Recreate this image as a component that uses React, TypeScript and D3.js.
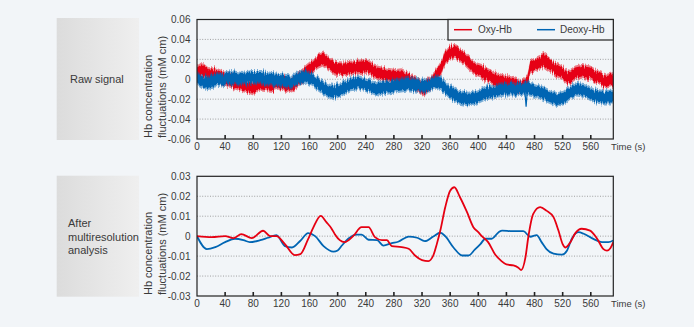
import React from 'react';
import * as d3 from 'd3';

// ---------- data ----------
const timeTicks = [0, 40, 80, 120, 160, 200, 240, 280, 320, 360, 400, 440, 480, 520, 560];
const rawYTicks = [0.06, 0.04, 0.02, 0, -0.02, -0.04, -0.06];
const rawYTickLabels = ['0.06', '0.04', '0.02', '0', '-0.02', '-0.04', '-0.06'];
const mraYTicks = [0.03, 0.02, 0.01, 0, -0.01, -0.02, -0.03];
const mraYTickLabels = ['0.03', '0.02', '0.01', '0', '-0.01', '-0.02', '-0.03'];
const seriesNames = ['Oxy-Hb', 'Deoxy-Hb'];

// raw signal: [time s, mean value]
const oxyRaw: [number, number][] = [
  [0, 0.0064], [7, 0.0098], [16, 0.0047], [26, 0.0047], [35, 0.002], [45, -0.002], [54, -0.003],
  [64, -0.0055], [73, -0.007], [80, -0.009], [90, -0.0037], [99, -0.0047], [108, -0.0055],
  [118, -0.0037], [128, -0.0055], [135, -0.007], [142, -0.002], [149, 0.003], [156, 0.008],
  [163, 0.012], [172, 0.018], [180, 0.0205], [187, 0.0165], [196, 0.011], [210, 0.0105],
  [225, 0.012], [239, 0.013], [246, 0.0115], [253, 0.007], [267, 0.0047], [282, 0.003],
  [291, 0.0037], [301, 0], [315, -0.0065], [322, -0.0105], [331, -0.0047], [338, 0.001],
  [346, 0.0098], [353, 0.021], [362, 0.0285], [369, 0.0275], [379, 0.022], [388, 0.0155],
  [396, 0.01], [405, 0.008], [414, 0.0037], [424, 0.0003], [433, -0.002], [443, -0.0037],
  [452, -0.0055], [462, -0.008], [469, -0.0037], [474, 0.012], [483, 0.0155], [493, 0.019],
  [500, 0.0155], [509, 0.0105], [519, 0.0065], [528, 0.0013], [538, 0.0065], [547, 0.008],
  [559, 0.0065], [571, 0.0013], [583, -0.002], [592, 0],
];
const deoxyRaw: [number, number][] = [
  [0, 0.001], [9, -0.0037], [21, -0.0013], [35, 0], [49, 0.002], [64, 0], [78, 0.002],
  [92, 0.002], [106, 0], [120, -0.0013], [135, -0.003], [144, 0.0013], [154, 0.003], [163, 0],
  [172, -0.0047], [182, -0.01], [192, -0.013], [198, -0.012], [206, -0.01], [218, -0.0047],
  [230, -0.0037], [244, -0.0065], [258, -0.01], [272, -0.008], [286, -0.0065], [301, -0.0047],
  [315, -0.0065], [324, -0.007], [338, -0.003], [348, -0.0047], [360, -0.013], [372, -0.018],
  [386, -0.02], [398, -0.018], [410, -0.014], [424, -0.0115], [438, -0.01], [452, -0.01],
  [467, -0.009], [476, -0.0105], [488, -0.013], [500, -0.017], [512, -0.0205], [521, -0.019],
  [531, -0.013], [540, -0.01], [552, -0.0115], [564, -0.0165], [576, -0.018], [592, -0.018],
];
const deoxySpike: [number, number][] = [[466, -0.009], [468, -0.0275], [470, -0.009]];
const rawNoiseHalfWidth = 0.0074;

// after multiresolution analysis
const oxyMra: [number, number][] = [
  [0, 0], [21, -0.0005], [40, 0], [52, -0.001], [63, 0.001], [78, -0.001], [94, 0.0027],
  [104, 0], [113, 0], [125, -0.004], [139, -0.0095], [147, -0.009], [158, -0.0015], [165, 0.004],
  [176, 0.0102], [184, 0.007], [191, 0.004], [196, 0.001], [203, -0.002], [210, -0.003],
  [222, 0], [234, 0.0045], [244, 0.0045], [253, -0.0005], [263, -0.002], [270, -0.002],
  [277, -0.005], [291, -0.0055], [301, -0.0063], [310, -0.0097], [320, -0.012], [329, -0.0125],
  [336, -0.0097], [341, -0.004], [346, 0.0028], [353, 0.0145], [360, 0.0228], [366, 0.0245],
  [374, 0.0195], [384, 0.012], [393, 0.0045], [400, 0.002], [405, 0], [414, -0.003],
  [424, -0.0092], [433, -0.0125], [440, -0.0142], [450, -0.0147], [457, -0.0158], [461, -0.017],
  [467, -0.0108], [471, -0.0008], [478, 0.011], [488, 0.0145], [497, 0.0128], [507, 0.0095],
  [514, 0.0028], [520, -0.004], [524, -0.0057], [531, -0.003], [538, 0.0015], [547, 0.0037],
  [559, 0.0028], [569, -0.0013], [578, -0.0065], [583, -0.0073], [588, -0.006], [592, -0.003],
];
const deoxyMra: [number, number][] = [
  [0, 0], [14, -0.0065], [26, -0.0055], [40, -0.003], [54, -0.0013], [66, -0.002], [75, -0.003],
  [90, -0.002], [101, -0.0008], [113, 0.0005], [125, -0.005], [135, -0.0057], [147, -0.0023],
  [158, 0.0015], [168, 0], [180, -0.005], [194, -0.0078], [200, -0.0072], [206, -0.0047],
  [215, -0.0013], [227, 0.0008], [234, 0.0008], [244, -0.0018], [256, -0.002], [265, -0.0047],
  [277, -0.0035], [286, -0.0028], [301, -0.0002], [313, -0.0008], [324, -0.0025], [336, -0.0002],
  [346, 0.0017], [353, 0], [365, -0.0058], [377, -0.0097], [386, -0.0097], [395, -0.0068],
  [403, -0.004], [410, -0.0013], [419, -0.0013], [429, 0.002], [434, 0.0028], [448, 0.0025],
  [464, 0.0025], [474, -0.0003], [483, 0.0005], [490, -0.003], [497, -0.0065], [507, -0.0088],
  [519, -0.0093], [526, -0.0073], [533, -0.0013], [542, 0.002], [550, 0.0012], [559, -0.0005],
  [569, -0.0022], [576, -0.003], [585, -0.003], [592, -0.0022],
];

// ---------- styles ----------
const RED = '#e60012';
const BLUE = '#0065b3';
const BG = '#f2f5f8';
const TEXT = '#3a3a3a';
const FONT = '"Liberation Sans", Arial, sans-serif';

const X0 = 197, X1 = 613.3;
const xScale = d3.scaleLinear().domain([0, 592]).range([X0, X1]);

function Panel({ top, bottom, yDomain, ticks, tickLabels, children }: any) {
  const y = d3.scaleLinear().domain(yDomain).range([bottom, top]);
  return (
    <g>
      {ticks.slice(1, -1).map((t: number) => (
        <line key={'g' + t} x1={X0} x2={X1} y1={y(t)} y2={y(t)} stroke="#8a8a8a" strokeWidth={0.8} strokeDasharray="1,1.6" />
      ))}
      <g clipPath={`url(#clip${Math.round(top)})`}>{children(y)}</g>
      <clipPath id={`clip${Math.round(top)}`}>
        <rect x={X0} y={top} width={X1 - X0} height={bottom - top} />
      </clipPath>
      <rect x={X0} y={top} width={X1 - X0} height={bottom - top} fill="none" stroke="#222" strokeWidth={1.2} />
      {timeTicks.slice(1).map((t) => (
        <line key={'t' + t} x1={xScale(t)} x2={xScale(t)} y1={bottom} y2={bottom - 4} stroke="#222" strokeWidth={1.6} />
      ))}
      {ticks.map((t: number, i: number) => (
        <text key={'yl' + t} x={190.5} y={y(t)} dy="0.35em" textAnchor="end" fontSize={10} fill={TEXT} fontFamily={FONT}>{tickLabels[i]}</text>
      ))}
      {timeTicks.map((t) => (
        <text key={'xl' + t} x={xScale(t)} y={bottom + 7.5} dy="0.35em" textAnchor="middle" fontSize={10} fill={TEXT} fontFamily={FONT}>{t}</text>
      ))}
      <text x={611} y={bottom + 7.5} dy="0.35em" fontSize={9.5} fill={TEXT} fontFamily={FONT}>Time (s)</text>
      <g transform={`translate(151.5, ${bottom - 1}) rotate(-90)`}>
        <text x={0} y={0} fontSize={11} fill={TEXT} fontFamily={FONT}>Hb concentration</text>
        <text x={0} y={14.5} fontSize={11} fill={TEXT} fontFamily={FONT}>fluctuations (mM cm)</text>
      </g>
    </g>
  );
}

export default function App() {
  const rawBand = (data: [number, number][], y: any, hw: number) =>
    d3.area<[number, number]>().x((d) => xScale(d[0])).y0((d) => y(d[1] - hw)).y1((d) => y(d[1] + hw))(data) || '';
  const lineGen = (y: any, curve: any) =>
    d3.line<[number, number]>().x((d) => xScale(d[0])).y((d) => y(d[1])).curve(curve);

  return (
    <svg width={694} height={327} style={{ position: 'absolute', left: 0, top: 0, display: 'block' }}>
      <defs>
        <linearGradient id="boxgrad" x1="0" x2="1" y1="0" y2="0">
          <stop offset="0" stopColor="#dcdcdc" />
          <stop offset="1" stopColor="#efefef" />
        </linearGradient>
        {/* vertical-only jitter to give the raw band a noisy, spiky edge */}
        <filter id="jitterA" x="-2%" y="-30%" width="104%" height="160%">
          <feTurbulence type="fractalNoise" baseFrequency="0.9 0.03" numOctaves={2} seed={4} result="turb" />
          <feColorMatrix in="turb" type="matrix" values="0 0 0 0 0.5  0 1 0 0 0  0 0 0 0 0  0 0 0 0 1" result="map" />
          <feDisplacementMap in="SourceGraphic" in2="map" scale={8} xChannelSelector="R" yChannelSelector="G" />
        </filter>
        <filter id="jitterB" x="-2%" y="-30%" width="104%" height="160%">
          <feTurbulence type="fractalNoise" baseFrequency="0.9 0.03" numOctaves={2} seed={11} result="turb" />
          <feColorMatrix in="turb" type="matrix" values="0 0 0 0 0.5  0 1 0 0 0  0 0 0 0 0  0 0 0 0 1" result="map" />
          <feDisplacementMap in="SourceGraphic" in2="map" scale={8} xChannelSelector="R" yChannelSelector="G" />
        </filter>
      </defs>
      <rect x={0} y={0} width={694} height={327} fill={BG} />

      <rect x={56.7} y={18} width={82.3} height={122} fill="url(#boxgrad)" />
      <text x={70} y={79} dy="0.35em" fontSize={11} fill={TEXT} fontFamily={FONT}>Raw signal</text>

      <rect x={56.7} y={175.7} width={82.3} height={121} fill="url(#boxgrad)" />
      <text x={68} y={223.5} dy="0.35em" fontSize={11} fill={TEXT} fontFamily={FONT}>After</text>
      <text x={68} y={237} dy="0.35em" fontSize={11} fill={TEXT} fontFamily={FONT}>multiresolution</text>
      <text x={68} y={250.5} dy="0.35em" fontSize={11} fill={TEXT} fontFamily={FONT}>analysis</text>

      <Panel top={19.5} bottom={139} yDomain={[-0.06, 0.06]} ticks={rawYTicks} tickLabels={rawYTickLabels}>
        {(y: any) => (
          <g>
            <g filter="url(#jitterA)">
              <path d={rawBand(oxyRaw, y, rawNoiseHalfWidth)} fill={RED} opacity={0.5} />
              <path d={rawBand(oxyRaw, y, rawNoiseHalfWidth * 0.72)} fill={RED} />
            </g>
            <g filter="url(#jitterB)">
              <path d={rawBand(deoxyRaw, y, rawNoiseHalfWidth)} fill={BLUE} opacity={0.5} />
              <path d={rawBand(deoxyRaw, y, rawNoiseHalfWidth * 0.72)} fill={BLUE} />
            </g>
            <path d={lineGen(y, d3.curveLinear)(deoxySpike) || ''} fill="none" stroke={BLUE} strokeWidth={1.2} />
          </g>
        )}
      </Panel>

      <Panel top={176.3} bottom={296} yDomain={[-0.03, 0.03]} ticks={mraYTicks} tickLabels={mraYTickLabels}>
        {(y: any) => (
          <g>
            <path d={lineGen(y, d3.curveMonotoneX)(deoxyMra) || ''} fill="none" stroke={BLUE} strokeWidth={1.8} />
            <path d={lineGen(y, d3.curveMonotoneX)(oxyMra) || ''} fill="none" stroke={RED} strokeWidth={1.8} />
          </g>
        )}
      </Panel>

      {/* legend */}
      <rect x={448} y={19.5} width={165.3} height={20.5} fill={BG} stroke="#222" strokeWidth={1.2} />
      <line x1={454} x2={472} y1={29.7} y2={29.7} stroke={RED} strokeWidth={1.5} />
      <text x={478} y={29.7} dy="0.35em" fontSize={10} fill={TEXT} fontFamily={FONT}>{seriesNames[0]}</text>
      <line x1={537} x2={555} y1={29.7} y2={29.7} stroke={BLUE} strokeWidth={1.5} />
      <text x={560} y={29.7} dy="0.35em" fontSize={10} fill={TEXT} fontFamily={FONT}>{seriesNames[1]}</text>
    </svg>
  );
}
